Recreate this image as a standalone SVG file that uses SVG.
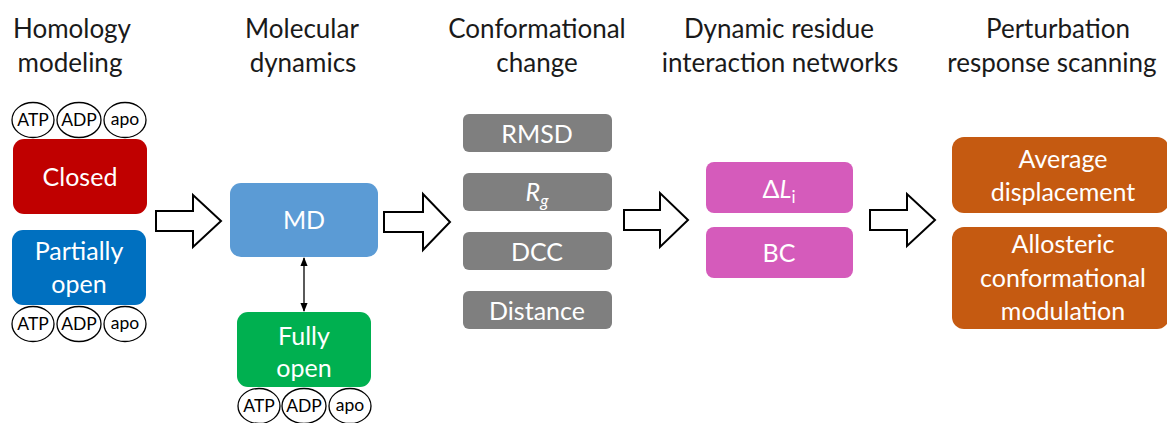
<svg xmlns="http://www.w3.org/2000/svg" width="1167" height="423" viewBox="0 0 1167 423">
<defs>
<style>
text{font-family:Lato,"Open Sans","Liberation Sans",sans-serif;text-anchor:middle}
.hdr{font-size:26px;fill:#1a1a1a}
.lbl{font-size:25px;fill:#ffffff}
.sm{font-size:17.5px;fill:#000000}
.lig{fill:#ffffff;stroke:#000000;stroke-width:1.3}
.blk{fill:#ffffff;stroke:#000000;stroke-width:2;stroke-linejoin:miter}
.gray{fill:#7f7f7f}
.pink{fill:#d55bbb}
.orange{fill:#c55a11}
</style>
<marker id="ah" viewBox="0 0 10 10" refX="9" refY="5" markerWidth="7" markerHeight="7" orient="auto-start-reverse">
<path d="M0,1 L10,5 L0,9 z" fill="#000"/>
</marker>
</defs>
<rect width="1167" height="423" fill="#ffffff"/>

<g id="headers">
<text class="hdr" x="72" y="38">Homology</text>
<text class="hdr" x="70" y="72">modeling</text>
<text class="hdr" x="302" y="38">Molecular</text>
<text class="hdr" x="303" y="72">dynamics</text>
<text class="hdr" x="537" y="38">Conformational</text>
<text class="hdr" x="537" y="72">change</text>
<text class="hdr" x="779" y="38">Dynamic residue</text>
<text class="hdr" x="780" y="72">interaction networks</text>
<text class="hdr" x="1058" y="38">Perturbation</text>
<text class="hdr" x="1052" y="72">response scanning</text>
</g>

<g id="ligands-top">
<ellipse class="lig" cx="33" cy="120" rx="21" ry="17.5"/><text class="sm" x="33" y="126">ATP</text>
<ellipse class="lig" cx="79" cy="120" rx="22" ry="17.5"/><text class="sm" x="79" y="126">ADP</text>
<ellipse class="lig" cx="125" cy="120" rx="21" ry="17.5"/><text class="sm" x="125" y="125">apo</text>
</g>

<g id="closed">
<rect x="13" y="139" width="134" height="75" rx="11" fill="#c00000"/>
<text class="lbl" x="80" y="186">Closed</text>
</g>

<g id="partially-open">
<rect x="12" y="230" width="134" height="75" rx="11" fill="#0070c0"/>
<text class="lbl" x="79" y="260">Partially</text>
<text class="lbl" x="79" y="293">open</text>
</g>

<g id="ligands-bottom">
<ellipse class="lig" cx="33" cy="324" rx="21" ry="17.5"/><text class="sm" x="33" y="330">ATP</text>
<ellipse class="lig" cx="79" cy="324" rx="22" ry="17.5"/><text class="sm" x="79" y="330">ADP</text>
<ellipse class="lig" cx="125" cy="324" rx="21" ry="17.5"/><text class="sm" x="125" y="329">apo</text>
</g>

<g id="md">
<rect x="230" y="183" width="148" height="74" rx="11" fill="#5b9bd5"/>
<text class="lbl" x="304" y="229">MD</text>
</g>

<g id="fully-open">
<rect x="237" y="312" width="134" height="75" rx="11" fill="#00b050"/>
<text class="lbl" x="304" y="345">Fully</text>
<text class="lbl" x="304" y="377">open</text>
</g>

<g id="ligands-fully">
<ellipse class="lig" cx="259" cy="406" rx="21" ry="17.5"/><text class="sm" x="259" y="412">ATP</text>
<ellipse class="lig" cx="304" cy="406" rx="22" ry="17.5"/><text class="sm" x="304" y="412">ADP</text>
<ellipse class="lig" cx="350" cy="406" rx="21" ry="17.5"/><text class="sm" x="350" y="411">apo</text>
</g>

<g id="rmsd">
<rect class="gray" x="463" y="114" width="149" height="38" rx="6"/>
<text class="lbl" x="537" y="143">RMSD</text>
</g>
<g id="rg">
<rect class="gray" x="463" y="173" width="149" height="38" rx="6"/>
<text class="lbl" x="537" y="201" font-style="italic">R<tspan font-size="17" dy="6">g</tspan></text>
</g>
<g id="dcc">
<rect class="gray" x="463" y="232" width="149" height="38" rx="6"/>
<text class="lbl" x="537" y="261">DCC</text>
</g>
<g id="distance">
<rect class="gray" x="463" y="291" width="149" height="38" rx="6"/>
<text class="lbl" x="537" y="320">Distance</text>
</g>

<g id="delta-li">
<rect class="pink" x="706" y="162" width="147" height="51" rx="8"/>
<text class="lbl" x="779" y="198">Δ<tspan font-style="italic">L</tspan><tspan font-size="17" dy="5">i</tspan></text>
</g>
<g id="bc">
<rect class="pink" x="706" y="227" width="147" height="51" rx="8"/>
<text class="lbl" x="779" y="262">BC</text>
</g>

<g id="avg-disp">
<rect class="orange" x="952" y="137" width="217" height="76" rx="12"/>
<text class="lbl" x="1063" y="168">Average</text>
<text class="lbl" x="1063" y="201">displacement</text>
</g>
<g id="allosteric">
<rect class="orange" x="952" y="227" width="217" height="102" rx="12"/>
<text class="lbl" x="1063" y="253">Allosteric</text>
<text class="lbl" x="1063" y="287">conformational</text>
<text class="lbl" x="1063" y="320">modulation</text>
</g>

<g id="connectors">
<path class="blk" d="M156,211 H193 V195 L221,221 L193,247 V231 H156 Z"/>
<path class="blk" d="M384,212 H423 V194 L450,222 L423,250 V232 H384 Z"/>
<path class="blk" d="M624,210 H660 V193 L688,220 L660,247 V230 H624 Z"/>
<path class="blk" d="M870,210 H907 V194 L935,220 L907,246 V230 H870 Z"/>
<line x1="304" y1="258" x2="304" y2="311" stroke="#000" stroke-width="1.3" marker-start="url(#ah)" marker-end="url(#ah)"/>
</g>
</svg>
